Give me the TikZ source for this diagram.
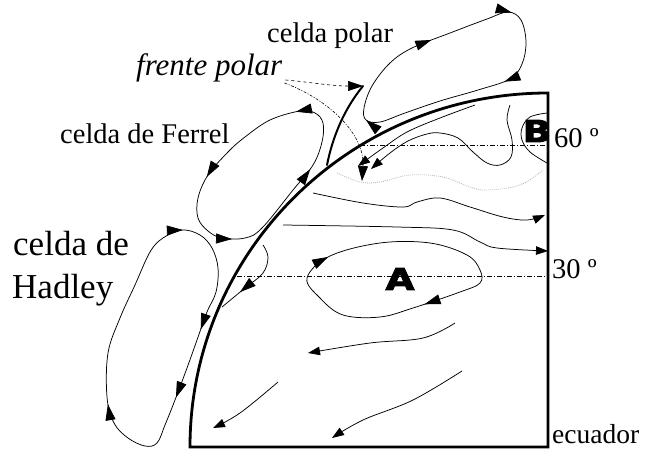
\documentclass[tikz,border=0pt]{standalone}
\usepackage{fontspec}
\setmainfont{Liberation Serif}
\newfontfamily\heavyfont[FakeBold=3,FakeStretch=1.25]{DejaVu Sans}
\usetikzlibrary{arrows.meta,decorations.markings}
\tikzset{
  smalltip/.tip={Triangle[length=12pt,width=8.5pt]},
  pointertip/.tip={Triangle[length=15pt,width=10pt]},
  flow/.style={line width=0.75pt, line join=round},
  along/.style={postaction={decorate,decoration={markings,
      mark=at position #1 with {\arrow{Triangle[length=16pt,width=10pt]}}}}},
  endtip/.style={-{smalltip}},
  earth/.style={line width=2.8pt, line join=miter},
  front/.style={line width=2pt, line cap=round},
  parallel/.style={line width=0.6pt, dash pattern=on 5pt off 2pt on 1pt off 2pt},
  graydots/.style={line width=0.8pt, gray!60, dash pattern=on 0.8pt off 1.2pt},
  lbl/.style={font=\fontsize{28.5}{30}\selectfont, inner sep=0pt, anchor=base west},
  biglbl/.style={font=\fontsize{35}{38}\selectfont, inner sep=0pt, anchor=base west},
  heavy/.style={font=\heavyfont\bfseries\fontsize{30}{30}\selectfont, inner sep=0pt}
}
\begin{document}
\begin{tikzpicture}[x=1pt,y=-1pt]
\useasboundingbox (0,0) rectangle (645,450);

% quarter of the globe: meridian arc, pole-to-equator edge and equator
\draw[earth] (190,447) arc[start angle=180, end angle=270, x radius=358, y radius=354]
  -- (548,447) -- cycle;

% parallels at 60 and 30 degrees
\coordinate (p60w) at (360,145);
\coordinate (p60e) at (548,145);
\coordinate (p30w) at (237,276);
\coordinate (p30e) at (548,276);
\draw[parallel] (p60w) -- (p60e);
\draw[parallel] (p30w) -- (p30e);

% labels
\node[lbl] (polar) at (267,42) {celda polar};
\node[lbl, font=\fontsize{31}{33}\selectfont\itshape] (fp) at (136,75) {frente polar};
\node[lbl] (ferrel) at (60,143) {celda de Ferrel};
\node[biglbl] (had1) at (13,255) {celda de};
\node[biglbl] (had2) at (12,298) {Hadley};
\node[lbl] (l60) at (554,147) {60 º};
\node[lbl] (l30) at (552,278) {30 º};
\node[lbl, font=\fontsize{27.5}{30}\selectfont] (eq) at (552,443) {ecuador};

% polar front
\coordinate (ftop) at (363,86);
\coordinate (fbot) at (327,165);
\draw[front] (ftop) .. controls (345,108) and (333,135) .. (fbot);

% pointers from the polar front label
\draw[line width=0.6pt, dashed, -{pointertip}] (fp.base east) ++(3,5)
  .. controls (310,82) and (330,86) .. (ftop);
\draw[line width=0.6pt, dash pattern=on 3pt off 1.5pt on 1pt off 1.5pt, -{pointertip}]
  (fp.base east) ++(2,8) .. controls (330,100) and (365,135) .. (362,181);

% polar cell
\draw[flow, along=0.18, along=0.38, along=0.575, along=0.915]
  plot[smooth cycle, tension=0.6] coordinates {
  (364,108) (372,86) (390,63) (412,48) (450,33) (487,19) (508,12) (521,20)
  (526,42) (522,64) (510,79) (478,90) (440,101) (405,113) (380,122) (366,120)};

% Ferrel cell
\draw[flow, along=0.22, along=0.44, along=0.72, along=0.93]
  plot[smooth cycle, tension=0.6] coordinates {
  (300,111) (270,120) (245,137) (228,152) (208,175) (198,198) (198,218)
  (208,231) (222,238) (245,238) (262,228) (293,190) (313,165) (322,142)
  (323,123) (315,113)};

% Hadley cell
\draw[flow, along=0.20, along=0.34, along=0.575, along=0.965]
  plot[smooth cycle, tension=0.6] coordinates {
  (182,230) (200,235) (212,248) (218,268) (216,292) (207,312) (197,340)
  (187,368) (175,400) (165,425) (157,443) (145,446) (128,438) (114,423)
  (107,397) (108,353) (120,318) (135,285) (150,252) (163,238)};

% anticyclone around A
\draw[flow, along=0.58, along=0.995]
  plot[smooth cycle, tension=0.6] coordinates {
  (307,278) (330,256) (380,243) (430,243) (467,255) (480,270) (480,283)
  (460,292) (413,308) (380,317) (343,315) (320,298)};

% surface winds north of 60 degrees
\draw[flow, endtip] plot[smooth, tension=0.6] coordinates {
  (475,105) (440,118) (407,132) (383,148) (358,166)};
\draw[flow, endtip] plot[smooth, tension=0.6] coordinates {
  (510,105) (507,120) (512,140) (511,157) (500,165) (487,163) (473,152)
  (458,138) (440,133) (427,134) (408,141) (390,153) (371,169)};
\draw[flow] plot[smooth, tension=0.6] coordinates {
  (547,113) (530,117) (522,128) (522,140) (530,152) (547,163)};

% dotted boundary under the front
\draw[graydots] plot[smooth, tension=0.6] coordinates {
  (337,173) (360,182) (380,182) (410,175) (443,177) (470,187) (487,190)
  (520,185) (543,170)};

% westerlies
\draw[flow, endtip] plot[smooth, tension=0.6] coordinates {
  (313,193) (363,203) (403,207) (417,202) (440,198) (470,207) (503,217)
  (527,220) (545,215)};
\draw[flow, endtip] plot[smooth, tension=0.6] coordinates {
  (283,225) (397,227) (453,230) (480,242) (497,248) (548,251)};
\draw[flow, along=0.72] plot[smooth, tension=0.6] coordinates {
  (263,245) (268,257) (263,273) (245,288) (222,307)};

% trade winds
\draw[flow, endtip] plot[smooth, tension=0.6] coordinates {
  (455,323) (423,338) (370,343) (308,353)};
\draw[flow, endtip] plot[smooth, tension=0.6] coordinates {
  (462,371) (413,400) (363,420) (332,438)};
\draw[flow, endtip] plot[smooth, tension=0.6] coordinates {
  (278,382) (240,413) (213,428)};

% high and low pressure marks
\node[heavy] (A) at (400,279) {A};
\node[heavy] (B) at (537,131) {B};
\end{tikzpicture}
\end{document}
